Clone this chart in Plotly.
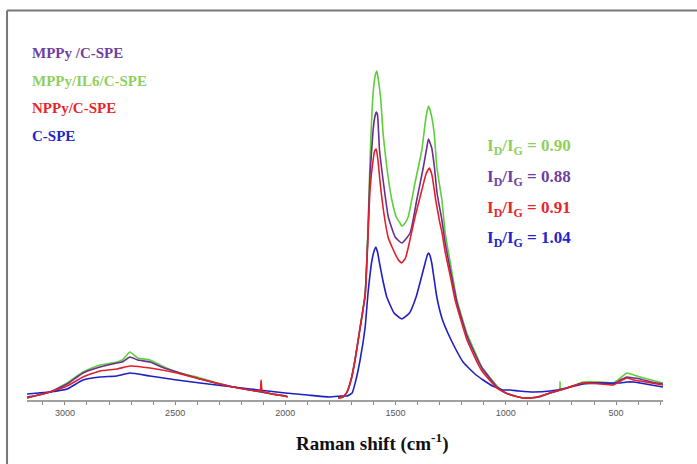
import plotly.graph_objects as go

# ---------------- data ----------------
wn_green = [3172, 3120, 3068, 2990, 2918, 2841, 2764, 2740, 2705, 2670, 2614, 2550, 2492, 2387, 2237,
            2160, 2110, 2060, 2000, 1990, 1900, 1760, 1740, 1730, 1720, 1700, 1684, 1661, 1638, 1625,
            1616, 1602, 1592, 1585, 1578, 1567, 1557, 1540, 1517, 1495, 1480, 1472, 1460, 1443, 1412,
            1381, 1362, 1351, 1340, 1325, 1313, 1290, 1275, 1250, 1222, 1177, 1140, 1109, 1070, 1040,
            1000, 960, 920, 890, 850, 800, 756, 754, 752, 723, 649, 572, 513, 480, 451, 420, 391, 340, 287]
int_green = [2, 5, 8, 17, 28, 35, 38, 40, 48, 42, 40, 33, 28, 22, 13,
             10, 8, 6, 4, 3, None, 2, 3, 5, 8, 22, 40, 73, 107, 173,
             240, 307, 325, 329, 320, 300, 267, 233, 200, 182, 177, 174, 176, 183, 217,
             250, 283, 294, 287, 267, 233, 200, 167, 135, 100, 67, 48, 33, 22, 14,
             7, 4, 2, 2, 3, 7, 10, 18, 10, 12, 18, 18, 17, 22, 27, 25, 23, 20, 17]

wn_purple = [3172, 3120, 3068, 2990, 2918, 2841, 2764, 2740, 2705, 2670, 2614, 2550, 2492, 2387, 2237,
             2160, 2110, 2060, 2000, 1990, 1900, 1760, 1740, 1730, 1720, 1700, 1684, 1661, 1638, 1625,
             1616, 1602, 1595, 1588, 1582, 1573, 1555, 1533, 1502, 1472, 1434, 1404, 1374, 1358, 1351,
             1336, 1324, 1312, 1290, 1275, 1250, 1221, 1176, 1140, 1108, 1070, 1040, 1000, 960, 920,
             890, 850, 800, 723, 649, 572, 513, 480, 451, 420, 391, 340, 287]
int_purple = [3, 5, 8, 16, 27, 33, 37, 38, 43, 40, 38, 32, 28, 21, 13,
              10, 8, 6, 4, 3, None, 2, 3, 5, 8, 22, 40, 72, 105, 168,
              225, 270, 282, 288, 285, 250, 217, 183, 163, 157, 167, 200, 233, 253, 261,
              252, 233, 207, 180, 157, 128, 97, 64, 46, 32, 21, 13, 7, 4, 2,
              2, 3, 7, 12, 17, 17, 16, 20, 23, 22, 21, 18, 16]

wn_red = [3172, 3120, 3068, 2990, 2918, 2841, 2764, 2705, 2614, 2492, 2387, 2237, 2160, 2115, 2110,
          2105, 2060, 2000, 1990, 1900, 1760, 1740, 1730, 1720, 1700, 1684, 1661, 1638, 1625, 1616,
          1602, 1595, 1588, 1580, 1570, 1552, 1533, 1510, 1490, 1472, 1455, 1442, 1412, 1381, 1362,
          1347, 1335, 1318, 1300, 1290, 1275, 1250, 1230, 1176, 1124, 1108, 1070, 1040, 1000, 960,
          920, 890, 860, 800, 723, 649, 572, 513, 480, 451, 420, 391, 340, 287]
int_red = [2, 5, 8, 14, 23, 29, 31, 34, 32, 27, 21, 13, 10, 9, 20,
           9, 6, 4, 3, None, 2, 3, 5, 8, 22, 40, 72, 105, 165, 210,
           240, 249, 251, 240, 217, 185, 162, 150, 141, 137, 142, 153, 183, 210, 226,
           232, 225, 200, 178, 168, 148, 122, 100, 60, 35, 29, 19, 12, 7, 4,
           2, 2, 3, 7, 12, 17, 16, 15, 19, 22, 20, 19, 17, 15]

wn_blue = [3172, 3120, 3068, 2990, 2918, 2841, 2764, 2705, 2614, 2492, 2387, 2237, 2160, 2000, 1900,
           1800, 1745, 1730, 1720, 1697, 1680, 1661, 1638, 1625, 1607, 1596, 1590, 1582, 1573, 1558,
           1540, 1507, 1472, 1437, 1407, 1386, 1366, 1356, 1351, 1345, 1336, 1313, 1290, 1265, 1230,
           1194, 1177, 1140, 1103, 1060, 1012, 981, 940, 876, 799, 723, 649, 572, 513, 480, 451, 420,
           391, 340, 287]
int_blue = [6, 7, 8, 11, 20, 23, 24, 27, 24, 20, 17, 13, 11, 7, 5,
            3, 4, 4, 4, 7, 20, 40, 73, 107, 140, 150, 153, 148, 137, 120,
            103, 87, 81, 87, 103, 120, 137, 145, 147, 145, 137, 103, 82, 68, 52,
            38, 34, 26, 20, 14, 10, 10, 9, 8, 9, 12, 16, 17, 17, 17, 18, 18,
            17, 15, 13]

series_names = ["MPPy/IL6/C-SPE", "MPPy /C-SPE", "C-SPE", "NPPy/C-SPE"]
ratio_labels = ["0.90", "0.88", "0.91", "1.04"]
tick_values = [3000, 2500, 2000, 1500, 1000, 500]

# ---------------- styling ----------------
C_GREEN, C_PURPLE, C_RED, C_BLUE = "#5ccf3a", "#6b2d8f", "#e3202a", "#1f1fc4"
T_GREEN, T_PURPLE, T_RED, T_BLUE = "#8fcf5f", "#6f3f9f", "#e8262a", "#2424c8"
SERIF = "Liberation Serif"

fig = go.Figure()
for x, y, name, col in [(wn_green, int_green, series_names[0], C_GREEN),
                        (wn_purple, int_purple, series_names[1], C_PURPLE),
                        (wn_blue, int_blue, series_names[2], C_BLUE),
                        (wn_red, int_red, series_names[3], C_RED)]:
    fig.add_trace(go.Scatter(x=x, y=y, mode="lines", name=name, connectgaps=False,
                             line=dict(color=col, width=1.6, shape="spline", smoothing=0.4)))

# legend-like labels
leg = [(series_names[1], T_PURPLE, 0.892), (series_names[0], T_GREEN, 0.820),
       (series_names[3], T_RED, 0.751), (series_names[2], T_BLUE, 0.679)]
for txt, col, yy in leg:
    fig.add_annotation(x=0.004, y=yy, xref="paper", yref="paper", text="<b>%s</b>" % txt,
                       showarrow=False, xanchor="left", yanchor="middle",
                       font=dict(family=SERIF, size=15, color=col))

ratios = [(ratio_labels[0], T_GREEN, 0.650), (ratio_labels[1], T_PURPLE, 0.571),
          (ratio_labels[2], T_RED, 0.491), (ratio_labels[3], T_BLUE, 0.414)]
for val, col, yy in ratios:
    fig.add_annotation(x=0.720, y=yy, xref="paper", yref="paper",
                       text="<b>I<sub>D</sub>/I<sub>G</sub> = %s</b>" % val,
                       showarrow=False, xanchor="left", yanchor="middle",
                       font=dict(family=SERIF, size=17, color=col))

fig.add_annotation(x=0.5425, y=-0.108, xref="paper", yref="paper",
                   text="<b>Raman shift (cm<sup>-1</sup>)</b>", showarrow=False,
                   xanchor="center", yanchor="middle",
                   font=dict(family=SERIF, size=19, color="#111"))

# outer frame (left and top edges only are inside the picture)
fig.add_shape(type="line", xref="paper", yref="paper", x0=-0.0314, x1=-0.0314, y0=-0.3, y1=1.0013,
              line=dict(color="#777", width=2))
fig.add_shape(type="line", xref="paper", yref="paper", x0=-0.0314, x1=1.2, y0=1.0013, y1=1.0013,
              line=dict(color="#777", width=2))

fig.update_layout(
    width=697, height=464, showlegend=False,
    margin=dict(l=27, r=34, t=11, b=64),
    paper_bgcolor="white", plot_bgcolor="white",
    xaxis=dict(range=[3172, 287], tickvals=tick_values, showgrid=False, zeroline=False,
               showline=True, linecolor="#a0a0a0", linewidth=1.5,
               ticks="outside", ticklen=3, tickcolor="#888", tickwidth=1,
               tickfont=dict(family="Liberation Sans", size=9, color="#555"),
               minor=dict(dtick=100, ticks="outside", ticklen=3, tickcolor="#888", showgrid=False)),
    yaxis=dict(range=[0, 389], visible=False, showgrid=False, zeroline=False),
)

fig.write_html("out.html", config={"displayModeBar": False},
               post_script="document.body.style.margin='0';document.body.style.overflow='hidden';")
